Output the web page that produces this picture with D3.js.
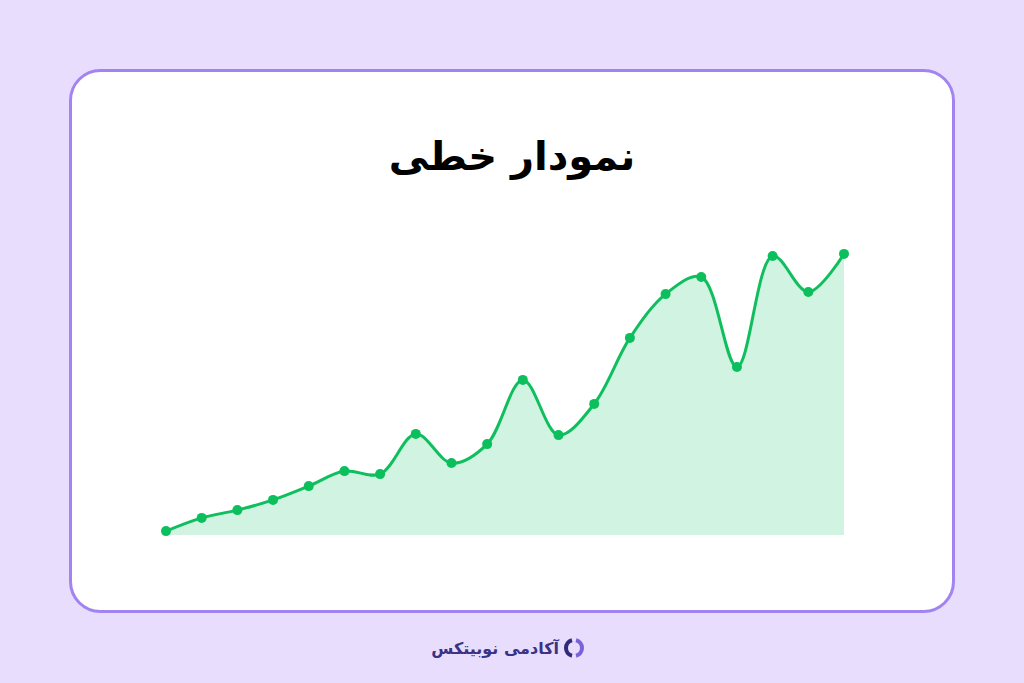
<!DOCTYPE html>
<html><head><meta charset="utf-8">
<script src="https://cdn.jsdelivr.net/npm/d3@7"></script>
<style>
html,body{margin:0;padding:0;background:#e8ddfd;}
svg{display:block;}
</style></head>
<body>
<script>
const titleText = "نمودار خطی";
const brandText = "آکادمی نوبیتکس";
const indices = d3.range(1, 21);
const values = [1.3, 5.7, 8.3, 11.7, 16.3, 21.3, 20.3, 33.7, 24, 30.3, 51.7, 33.3, 43.7, 65.7, 80.3, 86, 56, 93, 81, 93.7];

const W = 1024, H = 683;
const svg = d3.select("body").append("svg").attr("width", W).attr("height", H);
svg.append("rect").attr("width", W).attr("height", H).attr("fill", "#e8ddfd");

// card
svg.append("rect").attr("x", 70.5).attr("y", 70.5).attr("width", 883).attr("height", 541)
  .attr("rx", 30).attr("ry", 30).attr("fill", "#ffffff").attr("stroke", "#a284f1").attr("stroke-width", 3);

svg.append("text").attr("x", 512).attr("y", 170).attr("text-anchor", "middle")
  .attr("font-family", "DejaVu Sans, sans-serif").attr("font-weight", "bold").attr("font-size", 40)
  .attr("fill", "#000").text(titleText);

const x = d3.scaleLinear().domain([1, 20]).range([166, 844]);
const y = d3.scaleLinear().domain([0, 100]).range([535, 235]);
const data = indices.map((d, i) => ({i: d, v: values[i]}));
const curve = d3.curveCatmullRom.alpha(0.5);

svg.append("path").datum(data)
  .attr("d", d3.area().x(d => x(d.i)).y0(y(0)).y1(d => y(d.v)).curve(curve))
  .attr("fill", "#d1f3e1");
svg.append("path").datum(data)
  .attr("d", d3.line().x(d => x(d.i)).y(d => y(d.v)).curve(curve))
  .attr("fill", "none").attr("stroke", "#0fbf5e").attr("stroke-width", 3);
svg.selectAll("circle.pt").data(data).enter().append("circle")
  .attr("cx", d => x(d.i)).attr("cy", d => y(d.v)).attr("r", 5).attr("fill", "#0cbf5d");

// brand
const g = svg.append("g");
g.append("text").attr("x", 559).attr("y", 654).attr("text-anchor", "end")
  .attr("font-family", "DejaVu Sans, sans-serif").attr("font-weight", "bold").attr("font-size", 16)
  .attr("fill", "#3a3283").text(brandText);
// logo icon: two arcs
const arc1 = d3.arc().innerRadius(6).outerRadius(10).startAngle(Math.PI*1.08).endAngle(Math.PI*1.92);
const arc2 = d3.arc().innerRadius(6).outerRadius(10).startAngle(Math.PI*0.08).endAngle(Math.PI*0.92);
g.append("path").attr("d", arc1()).attr("transform", "translate(574,648)").attr("fill", "#2f2a7a");
g.append("path").attr("d", arc2()).attr("transform", "translate(574,648)").attr("fill", "#7b62d9");
</script>
</body></html>
